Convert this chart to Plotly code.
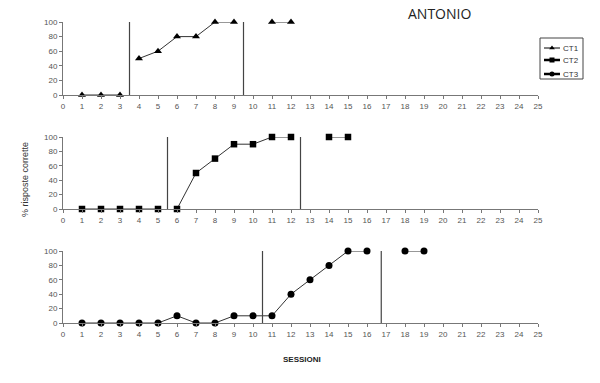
import plotly.graph_objects as go

ct1_x = [1, 2, 3, None, 4, 5, 6, 7, 8, 9, None, 11, 12]
ct1_y = [0, 0, 0, None, 50, 60, 80, 80, 100, 100, None, 100, 100]

ct2_x = [1, 2, 3, 4, 5, None, 6, 7, 8, 9, 10, 11, 12, None, 14, 15]
ct2_y = [0, 0, 0, 0, 0, None, 0, 50, 70, 90, 90, 100, 100, None, 100, 100]

ct3_x = [1, 2, 3, 4, 5, 6, 7, 8, 9, 10, 11, 12, 13, 14, 15, 16, None, 18, 19]
ct3_y = [0, 0, 0, 0, 0, 10, 0, 0, 10, 10, 10, 40, 60, 80, 100, 100, None, 100, 100]

series_names = ["CT1", "CT2", "CT3"]
phase_lines_1 = [3.5, 9.5]
phase_lines_2 = [5.5, 12.5]
phase_lines_3 = [10.5, 16.75]

x_ticks = list(range(0, 26))
y_ticks = [0, 20, 40, 60, 80, 100]

W, H = 600, 383
x_dom = [63 / W, 538 / W]
y_doms = [
    [1 - 95 / H, 1 - 22 / H],
    [1 - 209 / H, 1 - 137 / H],
    [1 - 323 / H, 1 - 251 / H],
]

fig = go.Figure()

symbols = ["triangle-up", "square", "circle"]
sizes = [7, 6.5, 7]
series = [(ct1_x, ct1_y), (ct2_x, ct2_y), (ct3_x, ct3_y)]
for i, (xs, ys) in enumerate(series, start=1):
    fig.add_trace(go.Scatter(
        x=xs, y=ys, name=series_names[i - 1], mode="lines+markers",
        line=dict(color="#333333", width=1),
        marker=dict(symbol=symbols[i - 1], size=sizes[i - 1], color="black"),
        cliponaxis=False, showlegend=False,
        xaxis="x" if i == 1 else f"x{i}",
        yaxis="y" if i == 1 else f"y{i}",
    ))

# legend drawn in a pixel-space overlay axis
leg_rows = [48, 60, 74]
leg_widths = [1, 2.5, 2.5]
for k in range(3):
    yy = leg_rows[k]
    fig.add_trace(go.Scatter(
        x=[544, 552, 560], y=[yy, yy, yy], mode="lines",
        line=dict(color="black", width=leg_widths[k]),
        showlegend=False, hoverinfo="skip", xaxis="x4", yaxis="y4",
    ))
    fig.add_trace(go.Scatter(
        x=[552], y=[yy], mode="markers",
        marker=dict(symbol=symbols[k], size=5, color="black"),
        showlegend=False, hoverinfo="skip", xaxis="x4", yaxis="y4",
    ))
    fig.add_annotation(text=series_names[k], x=561, y=yy, xref="x4", yref="y4",
                       xanchor="left", yanchor="middle", showarrow=False,
                       font=dict(family="Liberation Sans", size=8, color="#333333"))

axis_common_x = dict(
    range=[0, 25], tickvals=x_ticks, ticktext=[str(v) for v in x_ticks],
    showgrid=False, zeroline=False, showline=True, linecolor="#777777", linewidth=1,
    ticks="outside", ticklen=3, tickcolor="#777777",
    tickfont=dict(family="Liberation Sans", size=8, color="#555555"),
    fixedrange=True, domain=x_dom,
)
axis_common_y = dict(
    range=[0, 100], tickvals=y_ticks,
    showgrid=False, zeroline=False, showline=True, linecolor="#777777", linewidth=1,
    ticks="outside", ticklen=3, tickcolor="#777777",
    tickfont=dict(family="Liberation Sans", size=8, color="#555555"),
    fixedrange=True,
)

layout = dict(
    width=W, height=H,
    margin=dict(l=0, r=0, t=0, b=0, autoexpand=False),
    plot_bgcolor="rgba(0,0,0,0)", paper_bgcolor="white",
    showlegend=False,
    hovermode=False,
    xaxis4=dict(domain=[0, 1], range=[0, W], visible=False, fixedrange=True, anchor="y4"),
    yaxis4=dict(domain=[0, 1], range=[H, 0], visible=False, fixedrange=True, anchor="x4"),
)
for i in range(1, 4):
    xk = "xaxis" if i == 1 else f"xaxis{i}"
    yk = "yaxis" if i == 1 else f"yaxis{i}"
    xa = dict(axis_common_x)
    xa["anchor"] = "y" if i == 1 else f"y{i}"
    ya = dict(axis_common_y)
    ya["domain"] = y_doms[i - 1]
    ya["anchor"] = "x" if i == 1 else f"x{i}"
    layout[xk] = xa
    layout[yk] = ya
fig.update_layout(**layout)

shapes = []
for i, pls in enumerate([phase_lines_1, phase_lines_2, phase_lines_3], start=1):
    xr = "x" if i == 1 else f"x{i}"
    yr = "y" if i == 1 else f"y{i}"
    for p in pls:
        shapes.append(dict(type="line", xref=xr, yref=yr, x0=p, x1=p, y0=0, y1=100,
                           line=dict(color="#444444", width=1.2)))
shapes.append(dict(type="rect", xref="paper", yref="paper",
                   x0=540 / W, x1=583 / W, y0=1 - 79 / H, y1=1 - 38 / H,
                   line=dict(color="#444444", width=1)))
fig.update_layout(shapes=shapes)

fig.add_annotation(text="ANTONIO", x=440 / W, y=1 - 14 / H, xref="paper", yref="paper",
                   xanchor="center", yanchor="middle",
                   showarrow=False, font=dict(family="Open Sans", size=14, color="#222222"))
fig.add_annotation(text="% risposte corrette", x=25 / W, y=1 - 180 / H, xref="paper", yref="paper",
                   xanchor="center", yanchor="middle",
                   showarrow=False, textangle=-90,
                   font=dict(family="Liberation Sans", size=9, color="#333333"))
fig.add_annotation(text="<b>SESSIONI</b>", x=302 / W, y=1 - 359 / H, xref="paper", yref="paper",
                   xanchor="center", yanchor="middle",
                   showarrow=False, font=dict(family="Liberation Sans", size=8, color="#222222"))

fig.write_html("out.html", config={"displayModeBar": False, "staticPlot": True},
               post_script="document.body.style.margin='0';document.body.style.overflow='hidden';")
